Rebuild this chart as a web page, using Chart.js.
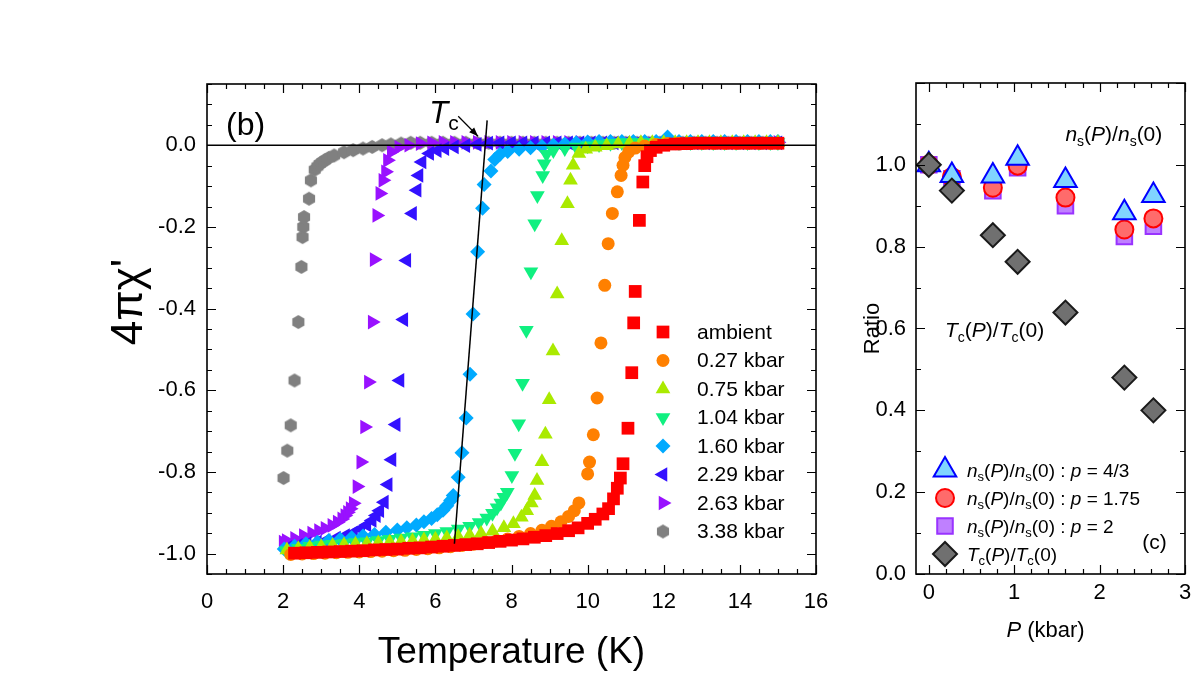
<!DOCTYPE html>
<html lang="en">
<head>
<meta charset="UTF-8">
<title>Susceptibility under pressure</title>
<script src="https://cdn.jsdelivr.net/npm/chart.js"></script>
<style>
  html, body { margin: 0; padding: 0; background: #fff; }
  #wrap { position: relative; width: 1200px; height: 688px; overflow: hidden; }
  canvas { position: absolute; top: 0; }
  #chiChart { left: 0; }
  #ratioChart { left: 860px; }
</style>
</head>
<body>
<div id="wrap">
  <canvas id="chiChart" width="860" height="688"></canvas>
  <canvas id="ratioChart" width="340" height="688"></canvas>
</div>
<script>
const FONT = "'Liberation Sans', Arial, sans-serif";
Chart.defaults.font.family = FONT;
Chart.defaults.color = '#000';

// ---- panel (b): [T (K), 4πχ'] ----
const ambient = [[2.3,-0.999],[2.6,-0.998],[2.9,-0.997],[3.2,-0.996],[3.5,-0.995],[3.8,-0.994],[4.1,-0.993],[4.4,-0.991],[4.7,-0.990],[5.0,-0.989],[5.3,-0.987],[5.6,-0.986],[5.9,-0.984],[6.2,-0.982],[6.5,-0.980],[6.8,-0.978],[7.1,-0.976],[7.4,-0.973],[7.7,-0.970],[8.0,-0.967],[8.3,-0.964],[8.6,-0.960],[8.9,-0.956],[9.2,-0.951],[9.5,-0.944],[9.75,-0.937],[10.0,-0.926],[10.2,-0.916],[10.4,-0.903],[10.55,-0.890],[10.68,-0.866],[10.78,-0.840],[10.86,-0.815],[10.93,-0.780],[11.06,-0.693],[11.16,-0.557],[11.21,-0.435],[11.25,-0.358],[11.36,-0.184],[11.45,-0.090],[11.5,-0.050],[11.56,-0.028],[11.65,-0.013],[11.8,-0.005],[12.0,0.000],[12.3,0.003],[12.6,0.004],[12.9,0.005],[13.2,0.005],[13.5,0.005],[13.8,0.005],[14.1,0.005],[14.4,0.005],[14.7,0.005],[15.0,0.005]];
const kbar027 = [[2.2,-1.002],[2.5,-1.001],[2.8,-1.000],[3.1,-0.999],[3.4,-0.998],[3.7,-0.997],[4.0,-0.996],[4.3,-0.995],[4.6,-0.994],[4.9,-0.993],[5.2,-0.992],[5.5,-0.990],[5.8,-0.988],[6.1,-0.986],[6.4,-0.983],[6.7,-0.980],[7.0,-0.977],[7.3,-0.973],[7.6,-0.969],[7.9,-0.964],[8.2,-0.958],[8.5,-0.951],[8.8,-0.943],[9.05,-0.933],[9.3,-0.922],[9.5,-0.909],[9.65,-0.895],[9.77,-0.876],[10.0,-0.805],[10.05,-0.776],[10.15,-0.709],[10.25,-0.619],[10.35,-0.484],[10.45,-0.343],[10.54,-0.241],[10.65,-0.167],[10.78,-0.114],[10.88,-0.074],[10.93,-0.049],[10.98,-0.030],[11.08,-0.016],[11.25,-0.007],[11.5,-0.002],[11.8,0.002],[12.1,0.004],[12.4,0.005],[12.7,0.005],[13.0,0.005],[13.3,0.005],[13.6,0.005],[13.9,0.005],[14.2,0.005],[14.5,0.005],[14.8,0.005],[15.0,0.005]];
const kbar075 = [[2.1,-0.991],[2.4,-0.988],[2.7,-0.985],[3.0,-0.983],[3.3,-0.981],[3.6,-0.979],[3.9,-0.977],[4.2,-0.976],[4.5,-0.974],[4.8,-0.972],[5.1,-0.971],[5.4,-0.969],[5.7,-0.967],[6.0,-0.965],[6.3,-0.962],[6.6,-0.959],[6.9,-0.955],[7.2,-0.951],[7.5,-0.945],[7.8,-0.937],[8.05,-0.927],[8.26,-0.911],[8.4,-0.895],[8.52,-0.876],[8.61,-0.858],[8.67,-0.821],[8.80,-0.775],[8.89,-0.708],[8.99,-0.623],[9.09,-0.504],[9.20,-0.364],[9.32,-0.234],[9.47,-0.143],[9.55,-0.086],[9.62,-0.049],[9.77,-0.020],[9.95,-0.010],[10.2,-0.005],[10.5,-0.001],[10.8,0.003],[11.1,0.005],[11.4,0.006],[11.7,0.006],[12.0,0.006],[12.3,0.006],[12.6,0.006],[12.9,0.006],[13.2,0.006],[13.5,0.006],[13.8,0.006],[14.1,0.006],[14.4,0.006],[14.7,0.006],[15.0,0.006]];
const kbar104 = [[2.08,-0.993],[2.4,-0.987],[2.7,-0.982],[3.0,-0.979],[3.3,-0.977],[3.6,-0.975],[3.9,-0.973],[4.2,-0.971],[4.5,-0.968],[4.8,-0.965],[5.1,-0.962],[5.4,-0.959],[5.7,-0.955],[6.0,-0.951],[6.3,-0.946],[6.6,-0.940],[6.9,-0.933],[7.15,-0.924],[7.35,-0.913],[7.5,-0.901],[7.62,-0.888],[7.72,-0.876],[7.8,-0.862],[7.89,-0.850],[8.01,-0.809],[8.09,-0.754],[8.19,-0.682],[8.29,-0.583],[8.39,-0.453],[8.51,-0.310],[8.61,-0.192],[8.68,-0.123],[8.82,-0.074],[8.86,-0.045],[8.92,-0.022],[9.1,-0.013],[9.4,-0.008],[9.7,-0.004],[10.0,-0.001],[10.3,0.002],[10.6,0.005],[10.9,0.007],[11.2,0.007],[11.5,0.007],[11.8,0.007],[12.1,0.007],[12.4,0.007],[12.7,0.007],[13.0,0.007],[13.3,0.007],[13.6,0.007],[13.9,0.007],[14.2,0.007],[14.5,0.007],[14.8,0.007],[15.0,0.007]];
const kbar160 = [[2.03,-0.989],[2.3,-0.982],[2.6,-0.976],[2.9,-0.972],[3.2,-0.968],[3.5,-0.965],[3.8,-0.961],[4.1,-0.957],[4.4,-0.953],[4.7,-0.948],[5.0,-0.942],[5.25,-0.937],[5.5,-0.930],[5.7,-0.922],[5.9,-0.914],[6.05,-0.905],[6.2,-0.894],[6.3,-0.883],[6.4,-0.870],[6.47,-0.858],[6.60,-0.813],[6.70,-0.753],[6.81,-0.668],[6.91,-0.561],[6.99,-0.413],[7.11,-0.261],[7.24,-0.154],[7.28,-0.096],[7.46,-0.063],[7.56,-0.035],[7.7,-0.022],[7.9,-0.015],[8.2,-0.010],[8.5,-0.006],[8.8,-0.003],[9.1,0.000],[9.4,0.003],[9.7,0.006],[10.0,0.008],[10.3,0.009],[10.6,0.009],[10.9,0.009],[11.2,0.009],[11.5,0.009],[11.8,0.009],[12.1,0.020],[12.4,0.009],[12.7,0.009],[13.0,0.009],[13.3,0.009],[13.6,0.009],[13.9,0.009],[14.2,0.009],[14.5,0.009],[14.8,0.009],[15.0,0.009]];
const kbar229 = [[2.13,-0.985],[2.4,-0.980],[2.63,-0.976],[2.9,-0.972],[3.13,-0.968],[3.4,-0.962],[3.64,-0.956],[3.85,-0.949],[4.04,-0.940],[4.2,-0.930],[4.34,-0.919],[4.45,-0.907],[4.54,-0.895],[4.66,-0.874],[4.76,-0.831],[4.86,-0.770],[4.97,-0.684],[5.07,-0.576],[5.17,-0.427],[5.25,-0.282],[5.40,-0.167],[5.52,-0.110],[5.57,-0.074],[5.65,-0.041],[5.85,-0.020],[6.05,-0.013],[6.25,-0.008],[6.5,-0.004],[6.8,-0.001],[7.1,0.002],[7.4,0.005],[7.7,0.006],[8.0,0.006],[8.3,0.006],[8.6,0.006],[8.9,0.006],[9.2,0.006],[9.5,0.006],[9.8,0.006],[10.1,0.006],[10.4,0.006],[10.7,0.006],[11.0,0.006],[11.3,0.006],[11.6,0.006],[11.9,0.006],[12.2,0.006],[12.5,0.006],[12.8,0.006],[13.1,0.006],[13.4,0.006],[13.7,0.006],[14.0,0.006],[14.3,0.006],[14.6,0.006],[15.0,0.006]];
const kbar263 = [[2.0,-0.972],[2.08,-0.968],[2.3,-0.963],[2.53,-0.956],[2.75,-0.950],[2.93,-0.944],[3.1,-0.938],[3.28,-0.931],[3.42,-0.923],[3.54,-0.915],[3.62,-0.907],[3.69,-0.899],[3.76,-0.890],[3.84,-0.877],[3.94,-0.836],[4.04,-0.776],[4.14,-0.690],[4.24,-0.580],[4.34,-0.433],[4.39,-0.280],[4.46,-0.172],[4.54,-0.118],[4.62,-0.086],[4.69,-0.065],[4.74,-0.037],[4.84,-0.016],[5.04,-0.005],[5.3,0.000],[5.6,0.004],[5.9,0.006],[6.2,0.007],[6.5,0.007],[6.8,0.007],[7.1,0.007],[7.4,0.007],[7.7,0.007],[8.0,0.007],[8.3,0.007],[8.6,0.007],[8.9,0.007],[9.2,0.007],[9.5,0.007],[9.8,0.007],[10.1,0.007],[10.4,0.007],[10.7,0.007],[11.0,0.007],[11.3,0.007],[11.6,0.007],[11.9,0.007],[12.2,0.007],[12.5,0.007],[12.8,0.007],[13.1,0.007],[13.4,0.007],[13.7,0.007],[14.0,0.007],[14.3,0.007],[14.6,0.007],[15.0,0.007]];
const kbar338 = [[2.01,-0.815],[2.11,-0.748],[2.20,-0.686],[2.30,-0.576],[2.40,-0.433],[2.48,-0.298],[2.51,-0.225],[2.53,-0.200],[2.55,-0.176],[2.68,-0.131],[2.73,-0.086],[2.83,-0.060],[2.9,-0.052],[2.96,-0.046],[3.03,-0.041],[3.1,-0.037],[3.2,-0.031],[3.34,-0.025],[3.6,-0.017],[3.84,-0.012],[4.1,-0.008],[4.34,-0.004],[4.6,0.000],[4.83,0.002],[5.1,0.004],[5.35,0.006],[5.6,0.006],[5.9,0.006],[6.2,0.006],[6.5,0.006],[6.8,0.006],[7.1,0.006],[7.4,0.006],[7.7,0.006],[8.0,0.006],[8.3,0.006],[8.6,0.006],[8.9,0.006],[9.2,0.006],[9.5,0.006],[9.8,0.006],[10.1,0.006],[10.4,0.006],[10.7,0.006],[11.0,0.006],[11.3,0.006],[11.6,0.006],[11.9,0.006],[12.2,0.006],[12.5,0.006],[12.8,0.006],[13.1,0.006],[13.4,0.006],[13.7,0.006],[14.0,0.006],[14.3,0.006],[14.6,0.006],[15.0,0.006]];

const seriesLabels = ['ambient', '0.27 kbar', '0.75 kbar', '1.04 kbar', '1.60 kbar', '2.29 kbar', '2.63 kbar', '3.38 kbar'];
const seriesData = [ambient, kbar027, kbar075, kbar104, kbar160, kbar229, kbar263, kbar338];

const zeroLineT = [0, 16];
const zeroLineChi = [0, 0];
const tcLineT = [6.50, 7.36];
const tcLineChi = [-0.976, 0.061];

const tempTicks = [0, 2, 4, 6, 8, 10, 12, 14, 16];
const chiTicks = [-1.0, -0.8, -0.6, -0.4, -0.2, 0.0];

// ---- panel (c): ratios vs pressure ----
const pressure = [0, 0.27, 0.75, 1.04, 1.60, 2.29, 2.63];
const nsP43 = [1.0, 0.974, 0.973, 1.016, 0.962, 0.883, 0.925];
const nsP175 = [1.0, 0.970, 0.944, 0.998, 0.920, 0.842, 0.869];
const nsP2 = [1.0, 0.966, 0.937, 0.993, 0.900, 0.825, 0.850];
const tcRatio = [1.0, 0.937, 0.828, 0.763, 0.639, 0.480, 0.400];
const pLabels = ['4/3', '1.75', '2'];

const pTicks = [0, 1, 2, 3];
const ratioTicks = [0, 0.2, 0.4, 0.6, 0.8, 1.0];

// hexagon marker for the 3.38 kbar set
function hexagon(r, fill) {
  const c = document.createElement('canvas');
  c.width = c.height = Math.ceil(2 * r + 2);
  const g = c.getContext('2d');
  g.beginPath();
  for (let k = 0; k < 6; k++) {
    const a = Math.PI / 3 * k - Math.PI / 2;
    g.lineTo(c.width / 2 + r * Math.cos(a), c.height / 2 + r * Math.sin(a));
  }
  g.closePath();
  g.fillStyle = fill;
  g.fill();
  return c;
}

const seriesStyle = [
  { color: '#ff0000', shape: 'rect', radius: 9, rotation: 0 },
  { color: '#ff8000', shape: 'circle', radius: 6.5, rotation: 0 },
  { color: '#aaea00', shape: 'triangle', radius: 8.5, rotation: 0 },
  { color: '#10f080', shape: 'triangle', radius: 8.5, rotation: 180 },
  { color: '#00aaff', shape: 'rectRot', radius: 7.5, rotation: 0 },
  { color: '#3311ff', shape: 'triangle', radius: 8.5, rotation: 270 },
  { color: '#9911ff', shape: 'triangle', radius: 8.5, rotation: 90 },
  { color: '#808080', shape: hexagon(7, '#808080'), radius: 7, rotation: 0 }
];

const ratioStyle = [
  { shape: 'rectRot', radius: 12, fill: '#707070', stroke: '#1a1a1a' },
  { shape: 'triangle', radius: 13, fill: '#80d4ff', stroke: '#0000ff' },
  { shape: 'circle', radius: 9, fill: '#ff6b6b', stroke: '#ff0000' },
  { shape: 'rect', radius: 11, fill: '#bf80ff', stroke: '#9933ff' }
];

// ---- drawing helpers ----
function rich(ctx, parts, x, y, size, align) {
  const fontFor = k => (k === 'i' ? 'italic ' : '') + (k === 's' ? Math.round(size * 0.68) : size) + 'px ' + FONT;
  let w = 0;
  for (const [t, k] of parts) { ctx.font = fontFor(k); w += ctx.measureText(t).width; }
  let cx = align === 'center' ? x - w / 2 : (align === 'right' ? x - w : x);
  ctx.textAlign = 'left';
  ctx.textBaseline = 'alphabetic';
  for (const [t, k] of parts) {
    ctx.font = fontFor(k);
    ctx.fillText(t, cx, y + (k === 's' ? size * 0.22 : 0));
    cx += ctx.measureText(t).width;
  }
}

function marker(ctx, st, x, y, fill, stroke, lw) {
  ctx.save();
  ctx.fillStyle = fill;
  ctx.strokeStyle = stroke;
  ctx.lineWidth = lw;
  if (Chart.helpers && Chart.helpers.drawPoint) {
    Chart.helpers.drawPoint(ctx, { pointStyle: st.shape, rotation: st.rotation || 0, radius: st.radius, borderWidth: lw }, x, y);
  } else {
    ctx.beginPath();
    ctx.arc(x, y, st.radius, 0, Math.PI * 2);
    ctx.fill();
  }
  ctx.restore();
}

function arrow(ctx, x1, y1, x2, y2) {
  ctx.beginPath();
  ctx.moveTo(x1, y1);
  ctx.lineTo(x2, y2);
  ctx.lineWidth = 1.2;
  ctx.strokeStyle = '#000';
  ctx.stroke();
  const ang = Math.atan2(y2 - y1, x2 - x1), L = 9, W = 3.5;
  ctx.beginPath();
  ctx.moveTo(x2, y2);
  ctx.lineTo(x2 - L * Math.cos(ang) + W * Math.sin(ang), y2 - L * Math.sin(ang) - W * Math.cos(ang));
  ctx.lineTo(x2 - L * Math.cos(ang) - W * Math.sin(ang), y2 - L * Math.sin(ang) + W * Math.cos(ang));
  ctx.closePath();
  ctx.fillStyle = '#000';
  ctx.fill();
}

// box frame with inward major/minor ticks on all four sides
function frameTicks(xr, yr) {
  return {
    id: 'frameTicks',
    afterDatasetsDraw(chart) {
      const { ctx, chartArea: a, scales: { x, y } } = chart;
      ctx.save();
      ctx.strokeStyle = '#000';
      ctx.lineWidth = 1.2;
      const major = (v, m) => Math.abs(v / m - Math.round(v / m)) < 1e-6;
      for (let i = 0; xr.from + i * xr.minor <= xr.to + 1e-9; i++) {
        const v = xr.from + i * xr.minor;
        const px = Math.round(x.getPixelForValue(v)) + 0.5;
        const len = major(v, xr.major) ? 9 : 5;
        ctx.beginPath();
        ctx.moveTo(px, a.bottom); ctx.lineTo(px, a.bottom - len);
        ctx.moveTo(px, a.top); ctx.lineTo(px, a.top + len);
        ctx.stroke();
      }
      for (let i = 0; yr.from + i * yr.minor <= yr.to + 1e-9; i++) {
        const v = yr.from + i * yr.minor;
        const py = Math.round(y.getPixelForValue(v)) + 0.5;
        const len = major(v, yr.major) ? 9 : 5;
        ctx.beginPath();
        ctx.moveTo(a.left, py); ctx.lineTo(a.left + len, py);
        ctx.moveTo(a.right, py); ctx.lineTo(a.right - len, py);
        ctx.stroke();
      }
      ctx.lineWidth = 1.6;
      ctx.strokeRect(a.left, a.top, a.right - a.left, a.bottom - a.top);
      ctx.restore();
    }
  };
}

const panelBNotes = {
  id: 'panelBNotes',
  afterDatasetsDraw(chart) {
    const { ctx, chartArea: a, scales: { x, y } } = chart;
    ctx.save();
    ctx.fillStyle = '#000';
    // y-axis title
    ctx.save();
    ctx.translate(130, 302);
    ctx.rotate(-Math.PI / 2);
    ctx.font = '44px ' + FONT;
    ctx.textAlign = 'center';
    ctx.textBaseline = 'middle';
    ctx.fillText("4\u03c0\u03c7'", 0, 0);
    ctx.restore();
    rich(ctx, [['(b)', 'n']], x.getPixelForValue(0.5), y.getPixelForValue(0.024), 32, 'left');
    rich(ctx, [['T', 'i'], ['c', 's']], x.getPixelForValue(5.84), y.getPixelForValue(0.054), 31, 'left');
    arrow(ctx, x.getPixelForValue(6.6), y.getPixelForValue(0.071), x.getPixelForValue(7.12), y.getPixelForValue(0.022));
    // legend
    seriesLabels.forEach((lab, i) => {
      const cy = a.top + 248 + 28.5 * i;
      const st = seriesStyle[i];
      marker(ctx, st, a.left + 456, cy, st.color, st.color, 0);
      ctx.fillStyle = '#000';
      ctx.font = '21px ' + FONT;
      ctx.textAlign = 'left';
      ctx.textBaseline = 'middle';
      ctx.fillText(lab, a.left + 490, cy + 1);
    });
    ctx.restore();
  }
};

const panelCNotes = {
  id: 'panelCNotes',
  afterDatasetsDraw(chart) {
    const { ctx, chartArea: a, scales: { x, y } } = chart;
    ctx.save();
    ctx.fillStyle = '#000';
    const ns = [['n', 'i'], ['s', 's'], ['(', 'n'], ['P', 'i'], [')/', 'n'], ['n', 'i'], ['s', 's'], ['(0)', 'n']];
    const tc = [['T', 'i'], ['c', 's'], ['(', 'n'], ['P', 'i'], [')/', 'n'], ['T', 'i'], ['c', 's'], ['(0)', 'n']];
    rich(ctx, ns, x.getPixelForValue(1.6), y.getPixelForValue(1.058), 21, 'left');
    rich(ctx, tc, x.getPixelForValue(0.19), y.getPixelForValue(0.579), 21, 'left');
    rich(ctx, [['(c)', 'n']], x.getPixelForValue(2.5), y.getPixelForValue(0.061), 21, 'left');
    // x-axis title with italic P
    rich(ctx, [['P', 'i'], [' (kbar)', 'n']], (a.left + a.right) / 2 - 5, 637, 22, 'center');
    // legend
    const rows = [
      { st: ratioStyle[1], parts: ns.slice(0, 7).concat([['(0) : ', 'n'], ['p', 'i'], [' = ' + pLabels[0], 'n']]) },
      { st: ratioStyle[2], parts: ns.slice(0, 7).concat([['(0) : ', 'n'], ['p', 'i'], [' = ' + pLabels[1], 'n']]) },
      { st: ratioStyle[3], parts: ns.slice(0, 7).concat([['(0) : ', 'n'], ['p', 'i'], [' = ' + pLabels[2], 'n']]) },
      { st: ratioStyle[0], parts: tc }
    ];
    rows.forEach((r, i) => {
      const cy = a.bottom - 104 + 28 * i;
      marker(ctx, r.st, a.left + 29, cy, r.st.fill, r.st.stroke, 2);
      ctx.fillStyle = '#000';
      rich(ctx, r.parts, a.left + 51, cy + 7, 19, 'left');
    });
    ctx.restore();
  }
};

// ---- panel (b) chart ----
const chiDatasets = [
  {
    data: zeroLineT.map((t, i) => ({ x: t, y: zeroLineChi[i] })),
    showLine: true, pointRadius: 0, borderColor: '#000', borderWidth: 1.5
  },
  {
    data: tcLineT.map((t, i) => ({ x: t, y: tcLineChi[i] })),
    showLine: true, pointRadius: 0, borderColor: '#000', borderWidth: 1.5
  }
].concat(seriesData.map((d, i) => ({
  label: seriesLabels[i],
  data: d,
  pointStyle: seriesStyle[i].shape,
  rotation: seriesStyle[i].rotation,
  pointRadius: seriesStyle[i].radius,
  pointBackgroundColor: seriesStyle[i].color,
  pointBorderColor: seriesStyle[i].color,
  pointBorderWidth: 0,
  showLine: false
})));

new Chart(document.getElementById('chiChart'), {
  type: 'scatter',
  data: { datasets: chiDatasets },
  options: {
    responsive: false,
    animation: false,
    events: [],
    layout: { padding: { left: 0, top: 84, right: 44, bottom: 0 } },
    plugins: { legend: { display: false }, tooltip: { enabled: false } },
    scales: {
      x: {
        type: 'linear', min: 0, max: 16,
        grid: { display: false, drawTicks: false },
        border: { display: false },
        afterBuildTicks: s => { s.ticks = tempTicks.map(v => ({ value: v })); },
        afterFit: s => { s.height = 114; },
        ticks: { font: { size: 22 }, padding: 15, color: '#000', callback: v => String(v) },
        title: { display: true, text: 'Temperature (K)', font: { size: 37 }, color: '#000', padding: { top: 0, bottom: 13 } }
      },
      y: {
        type: 'linear', min: -1.05, max: 0.15,
        grid: { display: false, drawTicks: false },
        border: { display: false },
        afterBuildTicks: s => { s.ticks = chiTicks.map(v => ({ value: v })); },
        afterFit: s => { s.width = 207; },
        ticks: { font: { size: 22 }, padding: 11, color: '#000', callback: v => v.toFixed(1) }
      }
    }
  },
  plugins: [frameTicks({ from: 0, to: 16, minor: 0.5, major: 2 }, { from: -1.05, to: 0.15, minor: 0.05, major: 0.2 }), panelBNotes]
});

// ---- panel (c) chart ----
const ratioSeries = [tcRatio, nsP43, nsP175, nsP2];
new Chart(document.getElementById('ratioChart'), {
  type: 'scatter',
  data: {
    datasets: ratioSeries.map((vals, i) => ({
      data: pressure.map((p, j) => ({ x: p, y: vals[j] })),
      pointStyle: ratioStyle[i].shape,
      pointRadius: ratioStyle[i].radius,
      pointBackgroundColor: ratioStyle[i].fill,
      pointBorderColor: ratioStyle[i].stroke,
      pointBorderWidth: 2
    }))
  },
  options: {
    responsive: false,
    animation: false,
    events: [],
    layout: { padding: { left: 0, top: 83, right: 9, bottom: 0 } },
    plugins: { legend: { display: false }, tooltip: { enabled: false } },
    scales: {
      x: {
        type: 'linear', min: -0.15, max: 3,
        grid: { display: false, drawTicks: false },
        border: { display: false },
        afterBuildTicks: s => { s.ticks = pTicks.map(v => ({ value: v })); },
        afterFit: s => { s.height = 114; },
        ticks: { font: { size: 22 }, padding: 6, color: '#000', callback: v => String(v) }
      },
      y: {
        type: 'linear', min: 0, max: 1.2,
        grid: { display: false, drawTicks: false },
        border: { display: false },
        afterBuildTicks: s => { s.ticks = ratioTicks.map(v => ({ value: v })); },
        afterFit: s => { s.width = 56; },
        ticks: { font: { size: 22 }, padding: 10, color: '#000', callback: v => v.toFixed(1) },
        title: { display: true, text: 'Ratio', font: { size: 22 }, color: '#000', padding: { top: 0, bottom: 0 } }
      }
    }
  },
  plugins: [frameTicks({ from: 0, to: 3, minor: 0.2, major: 1 }, { from: 0, to: 1.2, minor: 0.1, major: 0.2 }), panelCNotes]
});
</script>
</body>
</html>
